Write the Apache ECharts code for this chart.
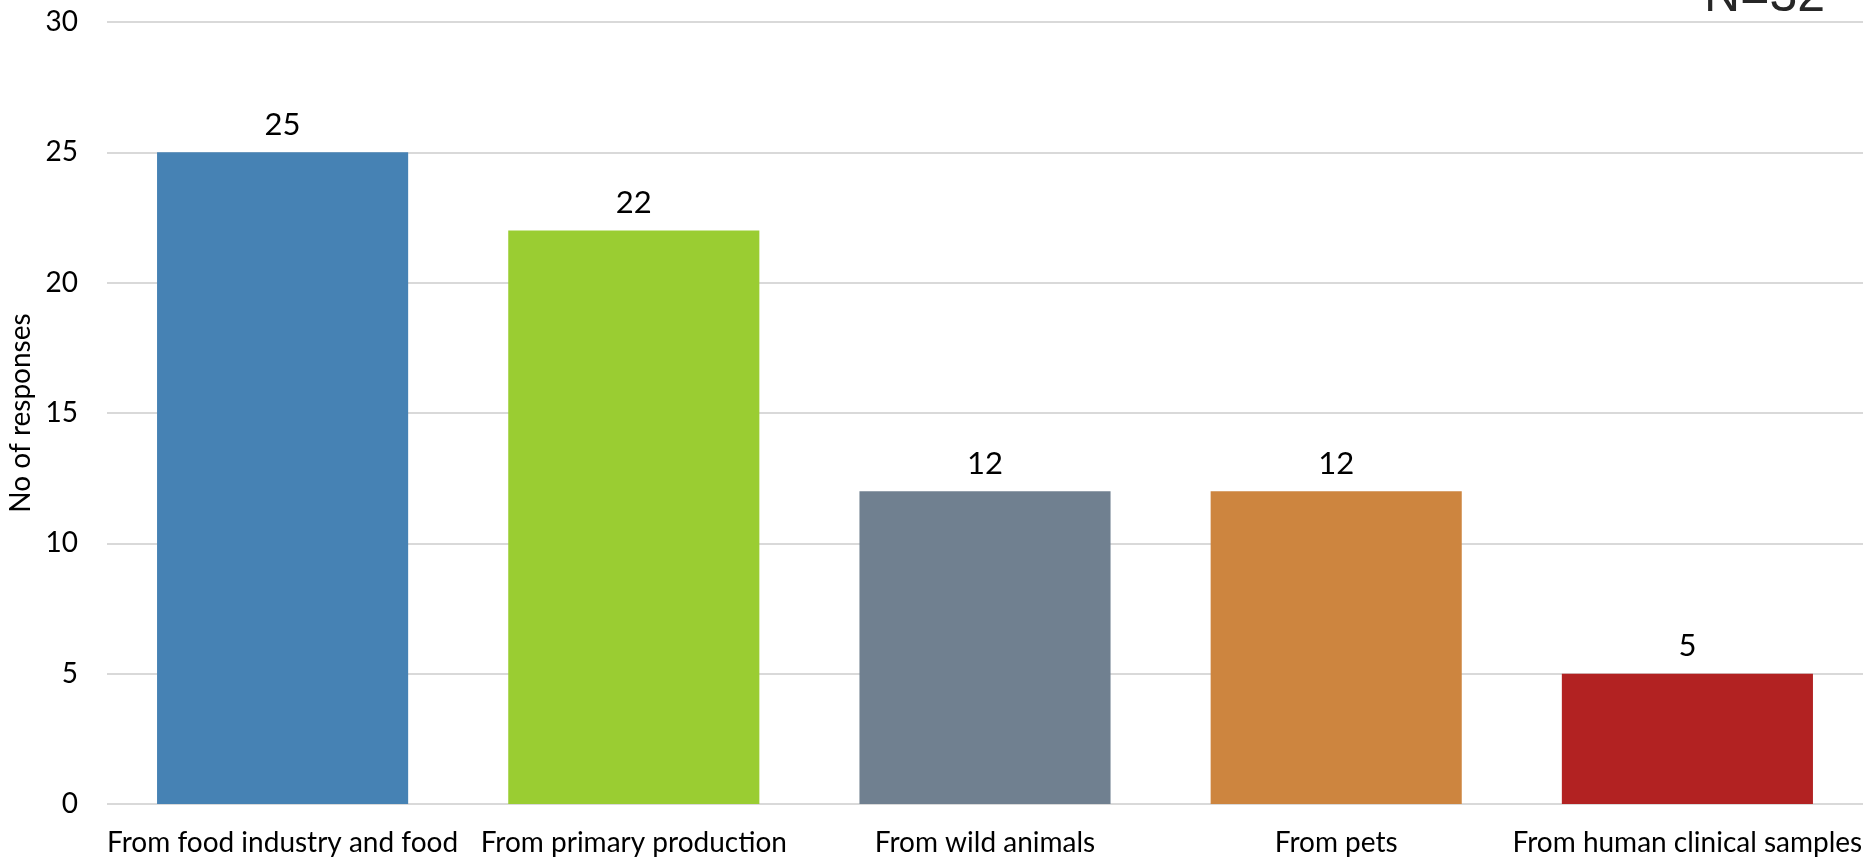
<!DOCTYPE html>
<html>
<head>
<meta charset="utf-8">
<script src="https://cdn.jsdelivr.net/npm/echarts@6/dist/echarts.min.js"></script>
<style>
  html, body { margin: 0; padding: 0; background: #ffffff; }
  #chart { width: 1875px; height: 858px; }
</style>
</head>
<body>
<div id="chart"></div>
<script>
// Sources of the responses
const categories = [
  'From food industry and food',
  'From primary production',
  'From wild animals',
  'From pets',
  'From human clinical samples'
];
const responses = [25, 22, 12, 12, 5];
const barColors = ['#4682B4', '#9ACD32', '#708090', '#CD853F', '#B22222'];
const yTicks = { min: 0, max: 30, interval: 5 };
const sampleNote = 'N=32';

const font = 'Lato, "Open Sans", sans-serif';

const chart = echarts.init(document.getElementById('chart'), null, { renderer: 'canvas' });

chart.setOption({
  animation: false,
  backgroundColor: '#ffffff',
  grid: {
    left: 107, right: 12, top: 22, bottom: 54,
    containLabel: false,
    outerBoundsMode: 'none'
  },
  xAxis: {
    type: 'category',
    data: categories,
    axisLine: { show: false },
    axisTick: { show: false },
    axisLabel: {
      color: '#000000',
      fontFamily: font,
      fontSize: 28,
      margin: 25,
      interval: 0
    }
  },
  yAxis: {
    type: 'value',
    min: yTicks.min,
    max: yTicks.max,
    interval: yTicks.interval,
    name: 'No of responses',
    nameLocation: 'middle',
    nameGap: 64,
    nameRotate: 90,
    nameTextStyle: { color: '#000000', fontFamily: font, fontSize: 28 },
    axisLine: { show: false },
    axisTick: { show: false },
    axisLabel: {
      color: '#000000',
      fontFamily: font,
      fontSize: 28,
      margin: 29
    },
    splitLine: { lineStyle: { color: '#d9d9d9', width: 2 } }
  },
  series: [{
    type: 'bar',
    data: responses.map((v, i) => ({ value: v, itemStyle: { color: barColors[i] } })),
    barWidth: '71.5%',
    label: {
      show: true,
      position: 'top',
      distance: 12,
      color: '#000000',
      fontFamily: font,
      fontSize: 31
    }
  }],
  graphic: [{
    type: 'text',
    right: 50,
    top: -28,
    style: {
      text: sampleNote,
      fill: '#262626',
      font: '50px "Liberation Sans", Arial, sans-serif'
    }
  }]
});
</script>
</body>
</html>
